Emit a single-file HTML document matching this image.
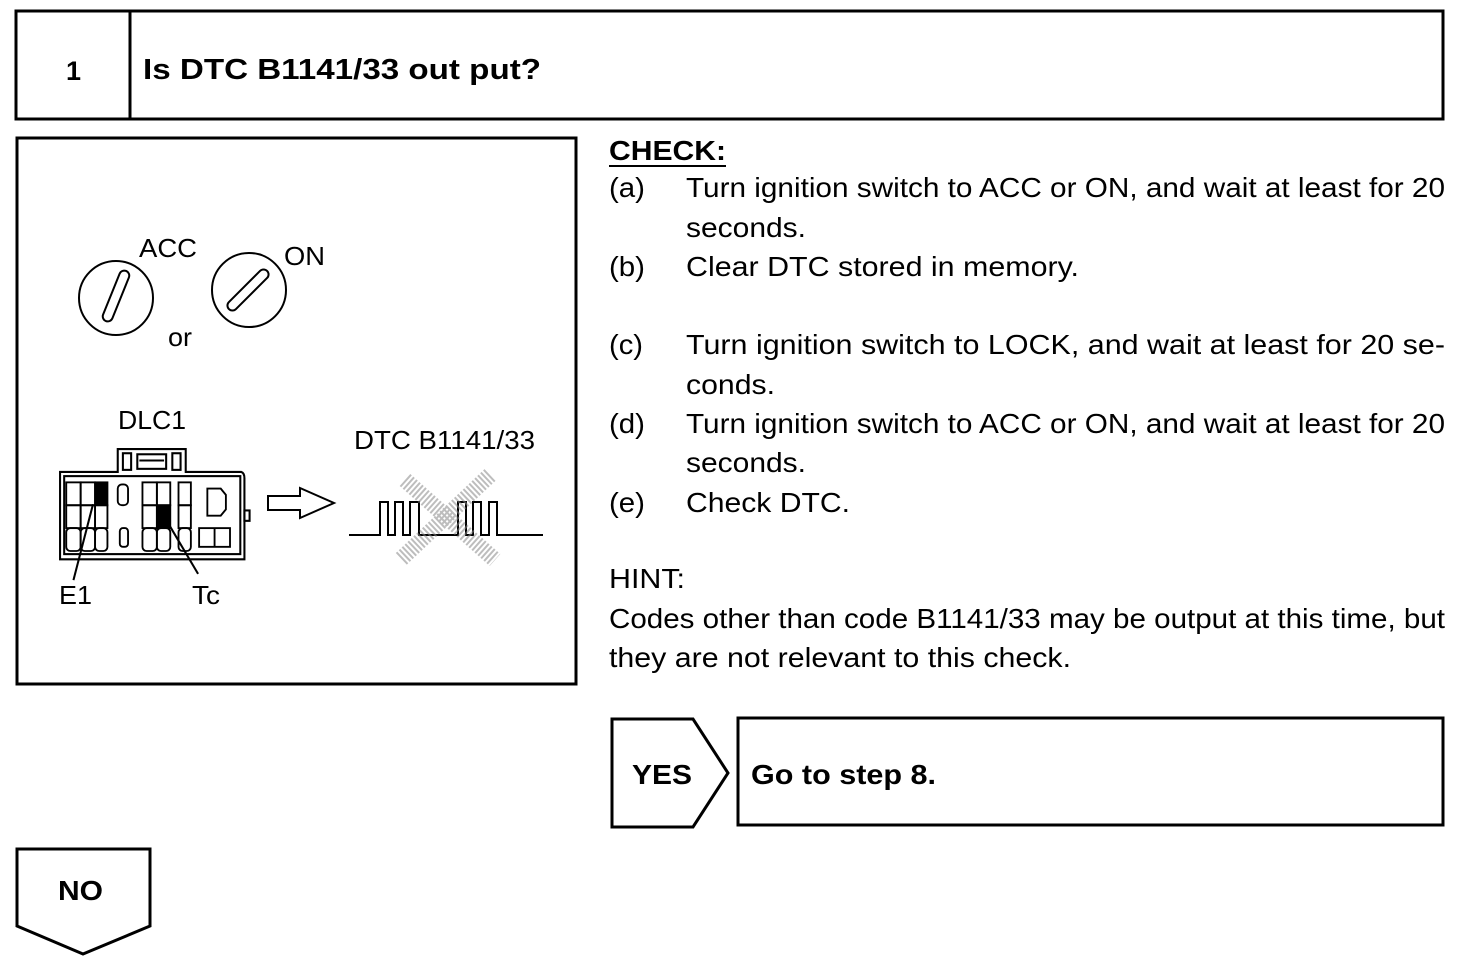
<!DOCTYPE html>
<html><head><meta charset="utf-8"><style>
html,body{margin:0;padding:0;background:#fff;}
svg{display:block;}
text{font-family:"Liberation Sans",Arial,sans-serif;fill:#000;}
</style></head><body>
<svg width="1472" height="968" viewBox="0 0 1472 968" xmlns="http://www.w3.org/2000/svg">
<g fill="none" stroke="#000" stroke-width="3">
<rect x="16" y="11" width="1427" height="108"/>
<line x1="130" y1="11" x2="130" y2="119"/>
<rect x="17" y="138" width="559" height="546"/>
<polygon points="612,719 693,719 728,773 693,827 612,827"/>
<rect x="738" y="718" width="705" height="107"/>
<polygon points="17,849 150,849 150,926 83,954 17,926"/>
</g>
<text x="66" y="80" font-size="27" font-weight="bold">1</text>
<text x="143" y="79" font-size="29" font-weight="bold" textLength="398" lengthAdjust="spacingAndGlyphs">Is DTC B1141/33 out put?</text>
<text x="632" y="784" font-size="28" font-weight="bold" textLength="60" lengthAdjust="spacingAndGlyphs">YES</text>
<text x="751" y="784" font-size="28" font-weight="bold" textLength="185" lengthAdjust="spacingAndGlyphs">Go to step 8.</text>
<text x="58" y="900" font-size="28" font-weight="bold" textLength="45" lengthAdjust="spacingAndGlyphs">NO</text>

<g font-size="28">
<text x="609" y="160" font-weight="bold" textLength="117" lengthAdjust="spacingAndGlyphs">CHECK:</text>
<line x1="609" y1="166" x2="726" y2="166" stroke="#000" stroke-width="2"/>
<text x="609" y="197" textLength="36" lengthAdjust="spacingAndGlyphs">(a)</text>
<text x="686" y="197" textLength="759" lengthAdjust="spacingAndGlyphs">Turn ignition switch to ACC or ON, and wait at least for 20</text>
<text x="686" y="237" textLength="120" lengthAdjust="spacingAndGlyphs">seconds.</text>
<text x="609" y="276" textLength="36" lengthAdjust="spacingAndGlyphs">(b)</text>
<text x="686" y="276" textLength="393" lengthAdjust="spacingAndGlyphs">Clear DTC stored in memory.</text>
<text x="609" y="354" textLength="34" lengthAdjust="spacingAndGlyphs">(c)</text>
<text x="686" y="354" textLength="759" lengthAdjust="spacingAndGlyphs">Turn ignition switch to LOCK, and wait at least for 20 se-</text>
<text x="686" y="394" textLength="89" lengthAdjust="spacingAndGlyphs">conds.</text>
<text x="609" y="433" textLength="36" lengthAdjust="spacingAndGlyphs">(d)</text>
<text x="686" y="433" textLength="759" lengthAdjust="spacingAndGlyphs">Turn ignition switch to ACC or ON, and wait at least for 20</text>
<text x="686" y="472" textLength="120" lengthAdjust="spacingAndGlyphs">seconds.</text>
<text x="609" y="512" textLength="36" lengthAdjust="spacingAndGlyphs">(e)</text>
<text x="686" y="512" textLength="164" lengthAdjust="spacingAndGlyphs">Check DTC.</text>
<text x="609" y="588" textLength="76" lengthAdjust="spacingAndGlyphs">HINT:</text>
<text x="609" y="628" textLength="836" lengthAdjust="spacingAndGlyphs">Codes other than code B1141/33 may be output at this time, but</text>
<text x="609" y="667" textLength="462" lengthAdjust="spacingAndGlyphs">they are not relevant to this check.</text>
</g>

<!-- illustration -->
<g font-size="26">
<text x="139" y="257" textLength="58" lengthAdjust="spacingAndGlyphs">ACC</text>
<text x="284" y="265" textLength="41" lengthAdjust="spacingAndGlyphs">ON</text>
<text x="168" y="346" textLength="24" lengthAdjust="spacingAndGlyphs">or</text>
<text x="118" y="429" textLength="68" lengthAdjust="spacingAndGlyphs">DLC1</text>
<text x="354" y="449" textLength="181" lengthAdjust="spacingAndGlyphs">DTC B1141/33</text>
<text x="59" y="604" textLength="33" lengthAdjust="spacingAndGlyphs">E1</text>
<text x="192" y="604" textLength="28" lengthAdjust="spacingAndGlyphs">Tc</text>
</g>
<g fill="none" stroke="#000" stroke-width="2">
<circle cx="116" cy="298" r="37"/>
<rect x="-5" y="-27" width="10" height="54" rx="5" transform="translate(116,296) rotate(22)"/>
<circle cx="249" cy="290" r="37"/>
<rect x="-5" y="-27" width="10" height="54" rx="5" transform="translate(248,290) rotate(45)"/>
<!-- connector -->
<g transform="translate(58,447) scale(1.03,1.04) translate(-60,-450)">
<path d="M62,474 L118,474 L118,452 L184,452 L184,474 L238,474 Q241,475 241,480 L241,558 L62,558 Z"/>
<rect x="66" y="478" width="171" height="75"/>
<rect x="123" y="456" width="8" height="16"/>
<rect x="171" y="456" width="8" height="16"/>
<rect x="137" y="457" width="28" height="14"/>
<line x1="139" y1="463" x2="163" y2="463"/>
<rect x="241" y="511" width="5" height="10"/>
<g stroke-width="1.8">
<rect x="68" y="484" width="14" height="22"/><rect x="82" y="484" width="14" height="22"/><rect x="96" y="484" width="12" height="22" fill="#000"/>
<rect x="68" y="506" width="14" height="22"/><rect x="82" y="506" width="14" height="22"/><rect x="96" y="506" width="12" height="22"/>
<rect x="68" y="528" width="14" height="22" rx="4"/><rect x="82" y="528" width="14" height="22" rx="4"/><rect x="96" y="528" width="12" height="22" rx="4"/>
<rect x="118" y="486" width="10" height="20" rx="4"/>
<rect x="120" y="528" width="8" height="18" rx="3"/>
<rect x="142" y="484" width="14" height="22"/><rect x="156" y="484" width="13" height="22"/>
<rect x="142" y="506" width="14" height="22"/><rect x="156" y="506" width="13" height="22" fill="#000"/>
<rect x="142" y="528" width="14" height="22" rx="4"/><rect x="156" y="528" width="13" height="22" rx="4"/>
<rect x="177" y="484" width="12" height="22"/><rect x="177" y="506" width="12" height="22"/><rect x="177" y="528" width="12" height="22" rx="4"/>
<path d="M205,490 L218,490 L223,496 L223,510 L218,516 L205,516 Z"/>
<rect x="197" y="528" width="30" height="18"/><line x1="212" y1="528" x2="212" y2="546"/>
</g>
<line x1="94" y1="505" x2="75" y2="578"/>
<line x1="165" y1="520" x2="196" y2="572"/>
</g>
<!-- arrow -->
<path d="M268,496 L300,496 L300,488 L334,503 L300,518 L300,510 L268,510 Z"/>
<!-- waveform -->
<path d="M349,535 L380,535 L380,502 L388,502 L388,535 L395,535 L395,502 L403,502 L403,535 L410,535 L410,502 L419,502 L419,535 L458,535 L458,502 L466,502 L466,535 L473,535 L473,502 L481,502 L481,535 L489,535 L489,502 L497,502 L497,535 L543,535"/>
</g>
<g stroke="#888" stroke-width="16" opacity="0.55" stroke-dasharray="2 2">
<line x1="405" y1="480" x2="495" y2="560"/>
<line x1="490" y1="475" x2="400" y2="560"/>
</g>
</svg>
</body></html>
